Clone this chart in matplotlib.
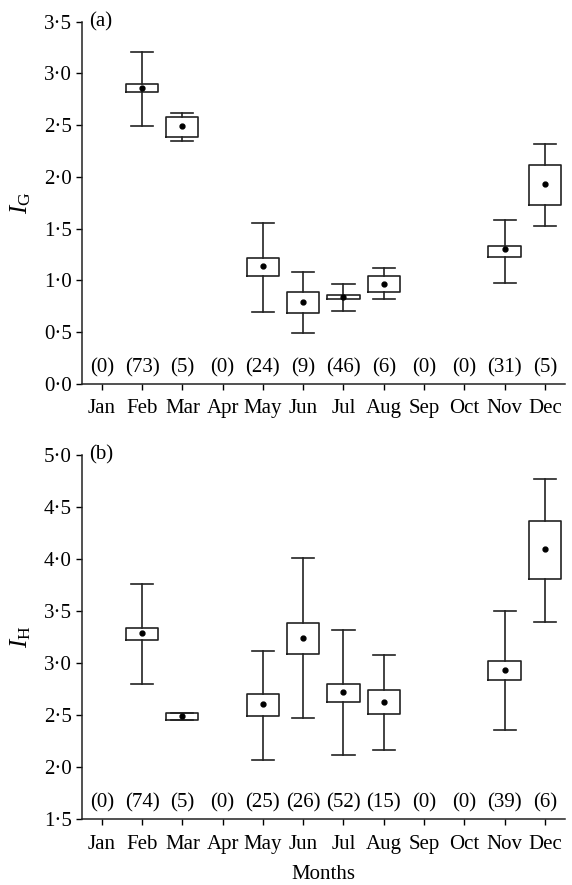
import matplotlib
matplotlib.use("Agg")
import matplotlib.pyplot as plt
from matplotlib.ticker import FuncFormatter, MultipleLocator

plt.rcParams['font.family'] = ['Liberation Serif', 'DejaVu Serif']
plt.rcParams['mathtext.fontset'] = 'custom'
plt.rcParams['mathtext.rm'] = 'Liberation Serif'
plt.rcParams['mathtext.it'] = 'Liberation Serif:italic'

months = ['Jan', 'Feb', 'Mar', 'Apr', 'May', 'Jun', 'Jul', 'Aug', 'Sep', 'Oct', 'Nov', 'Dec']

# Panel (a): I_G  (month index 1-12 of months with data)
a_pos = [2, 3, 5, 6, 7, 8, 11, 12]
a_whislo = [2.49, 2.35, 0.70, 0.49, 0.71, 0.82, 0.98, 1.53]
a_q1 = [2.82, 2.39, 1.04, 0.685, 0.817, 0.887, 1.23, 1.73]
a_mean = [2.86, 2.49, 1.14, 0.79, 0.842, 0.964, 1.30, 1.935]
a_q3 = [2.90, 2.58, 1.22, 0.884, 0.855, 1.04, 1.337, 2.12]
a_whishi = [3.21, 2.62, 1.56, 1.08, 0.964, 1.116, 1.584, 2.317]
a_counts = ['(0)', '(73)', '(5)', '(0)', '(24)', '(9)', '(46)', '(6)', '(0)', '(0)', '(31)', '(5)']

# Panel (b): I_H
b_pos = [2, 3, 5, 6, 7, 8, 11, 12]
b_whislo = [2.80, 2.45, 2.07, 2.47, 2.12, 2.17, 2.36, 3.40]
b_q1 = [3.224, 2.455, 2.49, 3.09, 2.63, 2.51, 2.842, 3.81]
b_mean = [3.29, 2.49, 2.606, 3.243, 2.727, 2.628, 2.936, 4.10]
b_q3 = [3.337, 2.52, 2.70, 3.39, 2.80, 2.743, 3.025, 4.37]
b_whishi = [3.76, 2.52, 3.12, 4.01, 3.314, 3.077, 3.506, 4.772]
b_counts = ['(0)', '(74)', '(5)', '(0)', '(25)', '(26)', '(52)', '(15)', '(0)', '(0)', '(39)', '(6)']

fig = plt.figure(figsize=(5.72, 8.85), dpi=100)
ax1 = fig.add_axes([0.1428, 0.5661, 0.845, 0.4094])
ax2 = fig.add_axes([0.1428, 0.0742, 0.845, 0.4117])

FS = 15
lw = 1.2
fmt = FuncFormatter(lambda v, p: f"{v:.1f}".replace('.', '\u00b7'))


def draw(ax, pos, lo, q1, mean, q3, hi, counts, ylim, count_y, ylabel, tag):
    stats = []
    for i in range(len(pos)):
        stats.append(dict(whislo=lo[i], q1=q1[i], med=mean[i], mean=mean[i],
                          q3=q3[i], whishi=hi[i], fliers=[]))
    ax.bxp(stats, positions=pos, widths=0.8, showmeans=True, showfliers=False,
           boxprops=dict(color='#222222', linewidth=lw),
           whiskerprops=dict(color='#222222', linewidth=lw),
           capprops=dict(color='#222222', linewidth=lw),
           medianprops=dict(linewidth=0),
           meanprops=dict(marker='o', markerfacecolor='black', markeredgecolor='black',
                          markersize=3.5),
           capwidths=0.55)
    for i, c in enumerate(counts):
        ax.text(i + 1, count_y, c, ha='center', va='center', fontsize=FS)
    ax.set_xlim(0.5, 12.5)
    ax.set_ylim(*ylim)
    ax.set_xticks(range(1, 13))
    ax.set_xticklabels(months, fontsize=FS)
    ax.yaxis.set_major_locator(MultipleLocator(0.5))
    ax.yaxis.set_major_formatter(fmt)
    ax.tick_params(axis='y', labelsize=FS, direction='out', length=4, width=1.0, pad=3)
    ax.tick_params(axis='x', direction='out', length=4, width=1.0, pad=7)
    for s in ['top', 'right']:
        ax.spines[s].set_visible(False)
    for s in ['left', 'bottom']:
        ax.spines[s].set_linewidth(1.1)
        ax.spines[s].set_color('#222222')
    ax.set_ylabel(ylabel, fontsize=FS + 3, labelpad=8)
    ax.text(0.015, 1.0, tag, transform=ax.transAxes, ha='left', va='center', fontsize=FS)


draw(ax1, a_pos, a_whislo, a_q1, a_mean, a_q3, a_whishi, a_counts, (0.0, 3.5), 0.155,
     r'$I_{\mathrm{G}}$', '(a)')
draw(ax2, b_pos, b_whislo, b_q1, b_mean, b_q3, b_whishi, b_counts, (1.5, 5.0), 1.654,
     r'$I_{\mathrm{H}}$', '(b)')
ax2.set_xlabel('Months', fontsize=FS, labelpad=8)

fig.savefig('out.png', dpi=100)
